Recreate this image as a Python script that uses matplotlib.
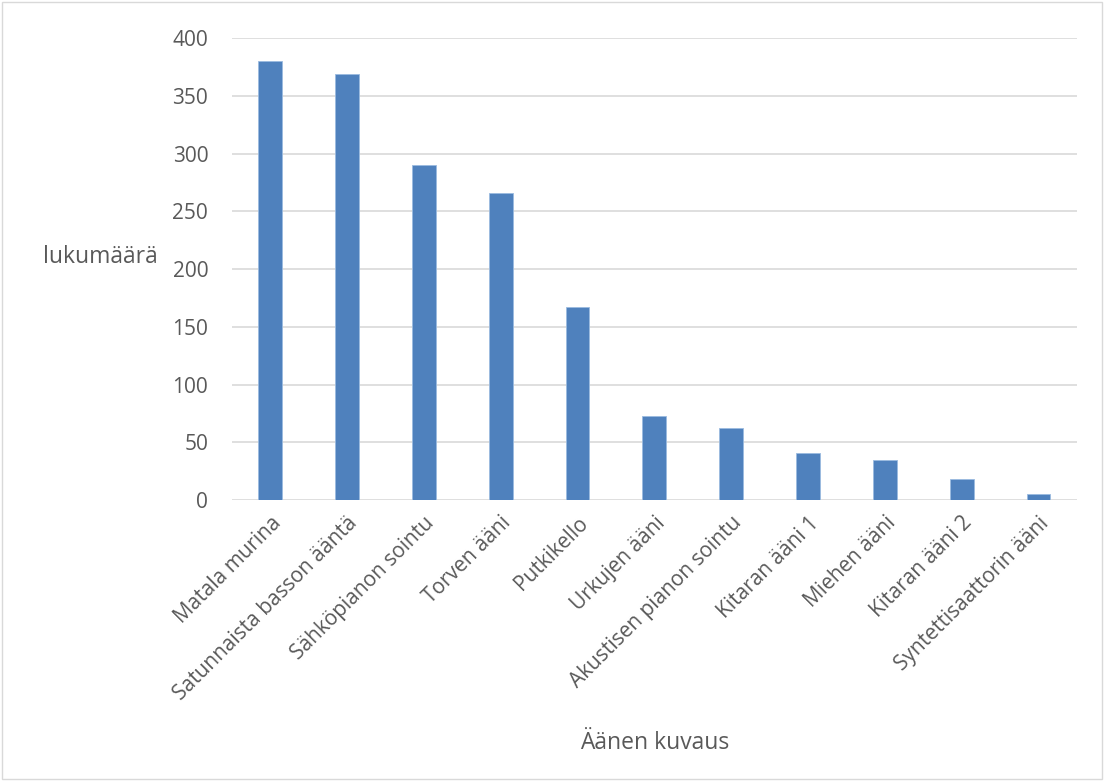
import matplotlib.pyplot as plt
from matplotlib.patches import Rectangle

# Data
categories = ["Matala murina", "Satunnaista basson ääntä", "Sähköpianon sointu",
              "Torven ääni", "Putkikello", "Urkujen ääni", "Akustisen pianon sointu",
              "Kitaran ääni 1", "Miehen ääni", "Kitaran ääni 2", "Syntettisaattorin ääni"]
counts = [380, 369, 290, 266, 167, 73, 62, 41, 35, 18, 5]
yticks = [0, 50, 100, 150, 200, 250, 300, 350, 400]

plt.rcParams['font.family'] = ['Open Sans', 'DejaVu Sans']
text_color = "#595959"

fig = plt.figure(figsize=(11.04, 7.81), dpi=100)
ax = fig.add_axes([0.210, 0.3598, 0.7655, 0.5915])

x = range(len(categories))
ax.bar(x, counts, width=0.31, color="#4f81bd", edgecolor="#9bbbe0", linewidth=0.6, zorder=3)

ax.set_xlim(-0.5, len(categories) - 0.5)
ax.set_ylim(0, 400)
ax.set_yticks(yticks)
ax.yaxis.grid(True, color="#d9d9d9", linewidth=1.2, zorder=0)
for s in ax.spines.values():
    s.set_visible(False)
ax.tick_params(axis='both', length=0, labelsize=15, colors=text_color, pad=9)
ax.tick_params(axis='y', pad=17)

ax.set_xticks(list(x))
ax.set_xticklabels(categories, rotation=45, ha='right', rotation_mode='anchor')

ax.set_ylabel("lukumäärä", rotation=0, fontsize=16.5, color=text_color, labelpad=0)
ax.yaxis.set_label_coords(-0.155, 0.5)
ax.set_xlabel("Äänen kuvaus", fontsize=16.5, color=text_color)
ax.xaxis.set_label_coords(0.5, -0.5)

# Chart area border
fig.patches.append(Rectangle((0.002, 0.002), 0.996, 0.996, transform=fig.transFigure,
                             fill=False, edgecolor="#d9d9d9", linewidth=1))

fig.savefig("out.png", dpi=100)
